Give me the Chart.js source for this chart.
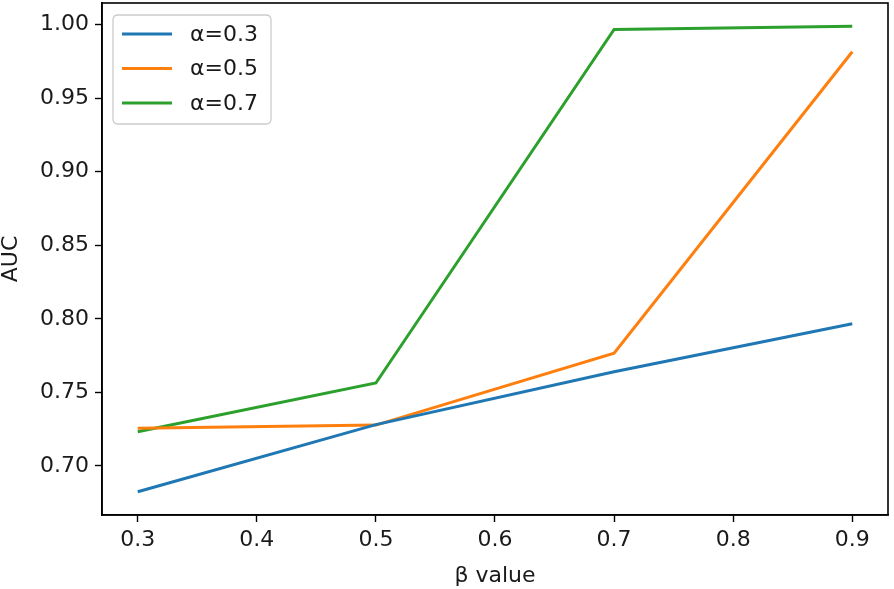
<!DOCTYPE html>
<html>
<head>
<meta charset="utf-8">
<script src="https://cdn.jsdelivr.net/npm/chart.js@4/dist/chart.umd.min.js"></script>
<style>
  html, body { margin: 0; padding: 0; background: #ffffff; }
  #wrap { width: 894px; height: 589px; }
</style>
</head>
<body>
<div id="wrap"><canvas id="c" width="894" height="589"></canvas></div>
<script>
// ---- data ----
const betaValues = [0.3, 0.5, 0.7, 0.9];
const seriesLabels = ['α=0.3', 'α=0.5', 'α=0.7'];
const aucAlpha03 = [0.6825, 0.7281, 0.7640, 0.7967];
const aucAlpha05 = [0.7256, 0.7278, 0.7766, 0.9816];
const aucAlpha07 = [0.7233, 0.7564, 0.9967, 0.9989];
const xTickValues = [0.3, 0.4, 0.5, 0.6, 0.7, 0.8, 0.9];
const yTickValues = [0.70, 0.75, 0.80, 0.85, 0.90, 0.95, 1.00];
const seriesColors = ['#1f77b4', '#ff7f0e', '#2ca02c'];

const allSeries = [aucAlpha03, aucAlpha05, aucAlpha07];
const allY = allSeries.flat();
const yMinD = Math.min(...allY), yMaxD = Math.max(...allY);
const xMinD = Math.min(...betaValues), xMaxD = Math.max(...betaValues);
const yPad = (yMaxD - yMinD) * 0.05, xPad = (xMaxD - xMinD) * 0.05;

const FONT = "'DejaVu Sans', sans-serif";
const FSIZE = 22;
const LW = 3;

const datasets = allSeries.map((vals, i) => ({
  label: seriesLabels[i],
  data: betaValues.map((b, j) => ({ x: b, y: vals[j] })),
  borderColor: seriesColors[i],
  backgroundColor: seriesColors[i],
  borderWidth: LW,
  pointRadius: 0,
  pointHoverRadius: 0,
  tension: 0,
  fill: false
}));

const framePlugin = {
  id: 'frame',
  afterDatasetsDraw(chart) {
    const { ctx, chartArea: a } = chart;
    ctx.save();
    ctx.strokeStyle = '#000';
    ctx.lineWidth = 1.6;
    ctx.strokeRect(a.left, a.top, a.right - a.left, a.bottom - a.top);
    ctx.restore();
  }
};

const legendPlugin = {
  id: 'mplLegend',
  afterDraw(chart) {
    const { ctx, chartArea: a } = chart;
    const x0 = a.left + 11, y0 = a.top + 12, w = 158, h = 109, r = 5;
    ctx.save();
    ctx.beginPath();
    ctx.moveTo(x0 + r, y0);
    ctx.lineTo(x0 + w - r, y0);
    ctx.quadraticCurveTo(x0 + w, y0, x0 + w, y0 + r);
    ctx.lineTo(x0 + w, y0 + h - r);
    ctx.quadraticCurveTo(x0 + w, y0 + h, x0 + w - r, y0 + h);
    ctx.lineTo(x0 + r, y0 + h);
    ctx.quadraticCurveTo(x0, y0 + h, x0, y0 + h - r);
    ctx.lineTo(x0, y0 + r);
    ctx.quadraticCurveTo(x0, y0, x0 + r, y0);
    ctx.closePath();
    ctx.fillStyle = 'rgba(255,255,255,0.8)';
    ctx.fill();
    ctx.strokeStyle = '#cccccc';
    ctx.lineWidth = 1.3;
    ctx.stroke();
    ctx.font = FSIZE + 'px ' + FONT;
    ctx.textBaseline = 'middle';
    ctx.fillStyle = '#1a1a1a';
    chart.data.datasets.forEach((ds, i) => {
      const yy = y0 + 19 + i * 34.5;
      ctx.strokeStyle = ds.borderColor;
      ctx.lineWidth = LW;
      ctx.beginPath();
      ctx.moveTo(x0 + 9, yy);
      ctx.lineTo(x0 + 59, yy);
      ctx.stroke();
      ctx.fillText(ds.label, x0 + 77, yy + 1);
    });
    ctx.restore();
  }
};

new Chart(document.getElementById('c'), {
  type: 'line',
  data: { datasets },
  options: {
    responsive: false,
    animation: false,
    devicePixelRatio: 1,
    layout: { padding: { top: 3, right: 6, left: 0, bottom: 0 } },
    plugins: { legend: { display: false }, tooltip: { enabled: false } },
    scales: {
      x: {
        type: 'linear',
        min: xMinD - xPad,
        max: xMaxD + xPad,
        afterBuildTicks(s) { s.ticks = xTickValues.map(v => ({ value: v })); },
        afterFit(s) { s.height = 74; s.paddingLeft = 0; s.paddingRight = 0; },
        grid: { drawOnChartArea: false, drawTicks: true, tickLength: 7, tickColor: '#000', tickWidth: 1.4 },
        border: { display: true, color: '#000', width: 1.6 },
        ticks: {
          color: '#1a1a1a',
          font: { family: FONT, size: FSIZE },
          padding: 5,
          maxRotation: 0,
          autoSkip: false,
          callback: v => Number(v).toFixed(1)
        },
        title: {
          display: true,
          text: 'β value',
          color: '#1a1a1a',
          font: { family: FONT, size: FSIZE },
          padding: { top: 0, bottom: 0 }
        }
      },
      y: {
        type: 'linear',
        min: yMinD - yPad,
        max: yMaxD + yPad,
        afterBuildTicks(s) { s.ticks = yTickValues.map(v => ({ value: v })); },
        afterFit(s) { s.width = 102; s.paddingTop = 0; s.paddingBottom = 0; },
        grid: { drawOnChartArea: false, drawTicks: true, tickLength: 7, tickColor: '#000', tickWidth: 1.4 },
        border: { display: true, color: '#000', width: 1.6 },
        ticks: {
          color: '#1a1a1a',
          font: { family: FONT, size: FSIZE },
          padding: 6,
          autoSkip: false,
          callback: v => Number(v).toFixed(2)
        },
        title: {
          display: true,
          text: 'AUC',
          color: '#1a1a1a',
          font: { family: FONT, size: FSIZE },
          padding: { top: -2, bottom: 0 }
        }
      }
    }
  },
  plugins: [framePlugin, legendPlugin]
});
</script>
</body>
</html>
